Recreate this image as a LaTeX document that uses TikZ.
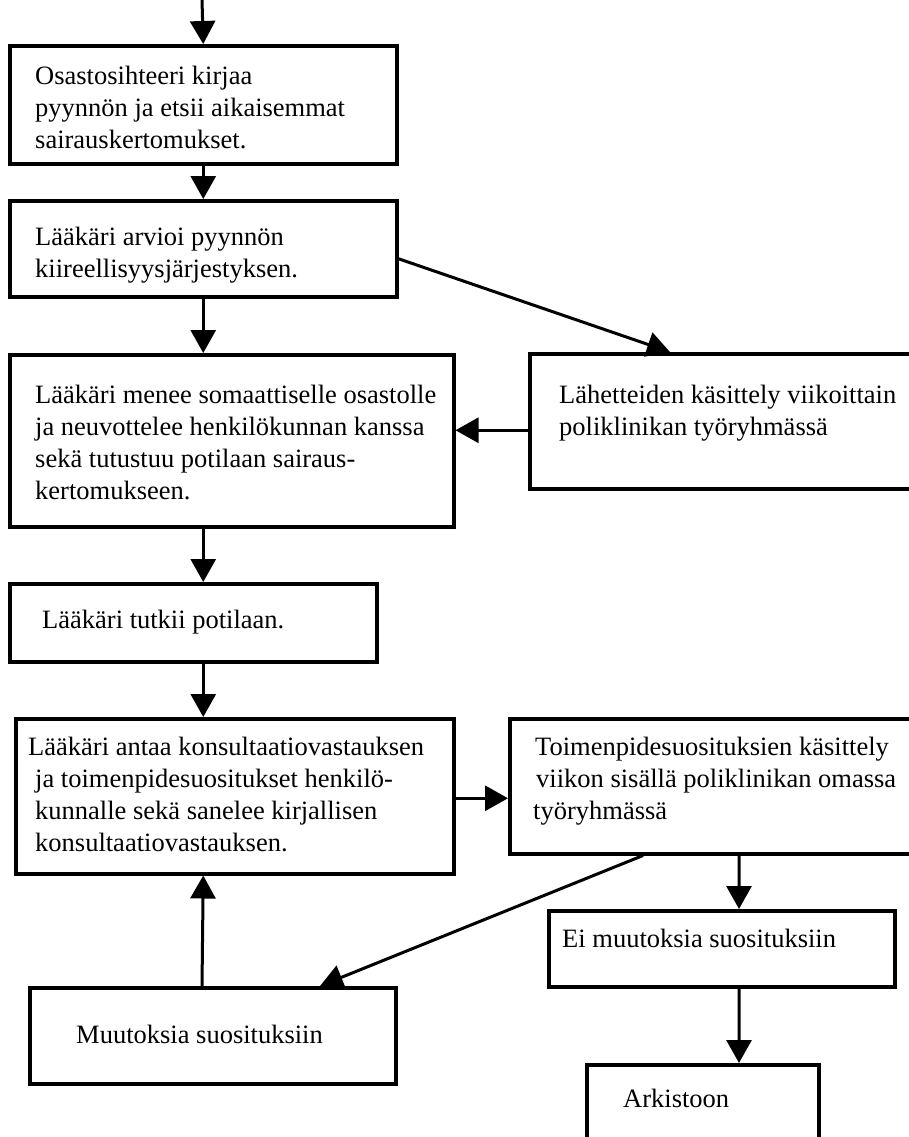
\documentclass[tikz,border=0pt]{standalone}
\usepackage{fontspec}
\setmainfont{Liberation Serif}
\usetikzlibrary{arrows.meta}
\tikzset{
  box/.style={draw, line width=3.5bp, rectangle, inner sep=0pt, anchor=north west},
  txt/.style={font=\fontsize{26.5bp}{32bp}\selectfont, align=left, inner sep=0pt, anchor=north west},
  arr/.style={line width=3bp, -{Triangle[length=23bp,width=25bp]}}
}
\begin{document}
\begin{tikzpicture}[x=1bp,y=-1bp]
\useasboundingbox (0,0) rectangle (909,1137);
\clip (0,0) rectangle (909,1137);
% boxes
\node[box, minimum width=387bp, minimum height=118bp] (b1) at (8,44) {};
\node[box, minimum width=387bp, minimum height=96bp] (b2) at (8,199) {};
\node[box, minimum width=444bp, minimum height=172bp] (b3) at (8,353) {};
\node[box, minimum width=367bp, minimum height=78bp] (b4) at (8,582) {};
\node[box, minimum width=438bp, minimum height=155bp] (b5) at (14,717) {};
\node[box, minimum width=420bp, minimum height=135bp] (lah) at (528,352) {};
\node[box, minimum width=440bp, minimum height=135bp] (toim) at (508,717) {};
\node[box, minimum width=346bp, minimum height=76bp] (ei) at (547,909) {};
\node[box, minimum width=232bp, minimum height=110bp] (ark) at (585,1063) {};
\node[box, minimum width=366bp, minimum height=96bp] (mu) at (28,986) {};
% texts
\node[txt] (t1) at (35,66) {Osastosihteeri kirjaa\\pyynnön ja etsii aikaisemmat\\sairauskertomukset.};
\node[txt] (t2) at (35,227) {Lääkäri arvioi pyynnön\\kiireellisyysjärjestyksen.};
\node[txt] (t3) at (35,385) {Lääkäri menee somaattiselle osastolle\\ja neuvottelee henkilökunnan kanssa\\sekä tutustuu potilaan sairaus-\\kertomukseen.};
\node[txt] (t4) at (42,610) {Lääkäri tutkii potilaan.};
\node[txt] (t5) at (28,737) {Lääkäri antaa konsultaatiovastauksen\\\hspace*{7bp}ja toimenpidesuositukset henkilö-\\\hspace*{7bp}kunnalle sekä sanelee kirjallisen\\\hspace*{7bp}konsultaatiovastauksen.};
\node[txt] (tl) at (559,385) {Lähetteiden käsittely viikoittain\\poliklinikan työryhmässä};
\node[txt] (tt) at (535,737) {Toimenpidesuosituksien käsittely\\\hspace*{1bp}viikon sisällä poliklinikan omassa\\\hspace*{-2bp}työryhmässä};
\node[txt] (te) at (562,929) {Ei muutoksia suosituksiin};
\node[txt] (ta) at (623,1089) {Arkistoon};
\node[txt] (tm) at (76,1025) {Muutoksia suosituksiin};
% connectors
\coordinate (start) at (202,0);
\draw[arr] (start) -- (b1.north);
\draw[arr] (b1.south) -- (b2.north);
\draw[arr] (b2.south) -- (b2.south |- b3.north);
\draw[arr] ([yshift=-10bp]b2.east) -- ([xshift=142bp]lah.north west);
\draw[arr] ([yshift=-9bp]lah.west) -- ([yshift=-9bp]lah.west -| b3.east);
\draw[arr] (b2.south |- b3.south) -- (b2.south |- b4.north);
\draw[arr] (b2.south |- b4.south) -- (b2.south |- b5.north);
\draw[arr] ([yshift=-2bp]b5.east) -- ([yshift=-2bp]b5.east -| toim.west);
\draw[arr] ([xshift=231bp]toim.south west) -- ([xshift=192bp]ei.north west);
\draw[arr] ([xshift=192bp]ei.south west) -- ([xshift=154bp]ark.north west);
\draw[arr] ([xshift=135bp]toim.south west) -- ([xshift=292bp]mu.north west);
\draw[arr] ([xshift=174bp]mu.north west) -- (b2.south |- b5.south);
\end{tikzpicture}
\end{document}
